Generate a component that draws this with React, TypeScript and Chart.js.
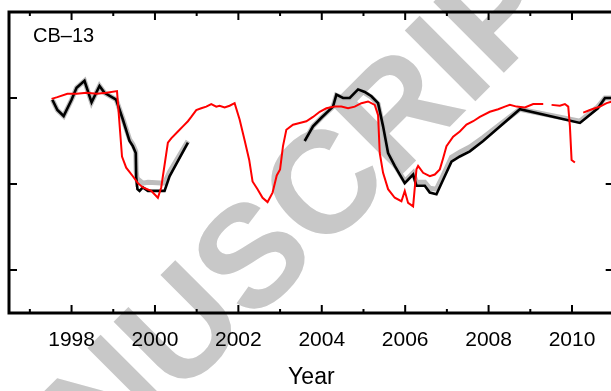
import { useEffect, useRef } from 'react';
import { Chart, registerables } from 'chart.js';
Chart.register(...registerables);

const panelLabel = 'CB\u201313';
const xAxisTitle = 'Year';
const watermarkText = 'MANUSCRIPT';
const xTickYears = [1998, 2000, 2002, 2004, 2006, 2008, 2010];
const xTickLabels = ['1998', '2000', '2002', '2004', '2006', '2008', '2010'];
const xMinorYears = [1997, 1999, 2001, 2003, 2005, 2007, 2009, 2011];
const yTickValues = [0, 1, 2];

const redYears = [
  1997.52, 1997.66, 1997.9, 1998.12, 1998.36, 1998.6, 1998.84, 1999.09, 1999.21, 1999.31,
  1999.47, 1999.59, 1999.71, 1999.91, 2000.07, 2000.15, 2000.19, 2000.31, 2000.39, 2000.55,
  2000.67, 2000.79, 2000.87, 2000.99, 2001.11, 2001.23, 2001.35, 2001.47, 2001.55, 2001.67,
  2001.79, 2001.91, 2002.03, 2002.15, 2002.26, 2002.34, 2002.46, 2002.58, 2002.7, 2002.82,
  2002.92, 2003.0, 2003.07, 2003.15, 2003.31, 2003.47, 2003.63, 2003.79, 2003.95, 2004.11,
  2004.31, 2004.47, 2004.63, 2004.79, 2004.95, 2005.11, 2005.27, 2005.35, 2005.39, 2005.47,
  2005.59, 2005.75, 2005.91, 2005.99, 2006.07, 2006.19, 2006.27, 2006.31, 2006.43, 2006.59,
  2006.71, 2006.83, 2006.91, 2006.99, 2007.15, 2007.31, 2007.47, 2007.63, 2007.79, 2008.03,
  2008.23, 2008.39, 2008.51, 2008.67, 2008.87, 2009.07, 2009.31, 2009.41, 2009.51, 2009.71,
  2009.83, 2009.91, 2009.95, 2009.99, 2010.07, 2010.17, 2010.27, 2010.43, 2010.55, 2010.67,
  2010.83, 2010.96,
];
const redValues = [
  1.99, 2.01, 2.05, 2.05, 2.06, 2.05, 2.06, 2.08, 1.32, 1.19,
  1.09, 1.01, 0.96, 0.92, 0.84, 0.96, 1.09, 1.48, 1.53, 1.61,
  1.67, 1.73, 1.78, 1.86, 1.88, 1.9, 1.93, 1.9, 1.91, 1.89,
  1.91, 1.94, 1.75, 1.51, 1.28, 1.03, 0.94, 0.84, 0.79, 0.9,
  1.1, 1.17, 1.44, 1.63, 1.69, 1.71, 1.73, 1.78, 1.84, 1.88,
  1.9, 1.9, 1.88, 1.9, 1.94, 1.96, 1.92, 1.8, 1.36, 1.13,
  0.94, 0.84, 0.8, 0.92, 0.78, 0.74, 1.17, 1.21, 1.13, 1.09,
  1.11, 1.17, 1.3, 1.44, 1.55, 1.61, 1.69, 1.73, 1.78, 1.84,
  1.87, 1.9, 1.92, 1.9, 1.89, 1.93, 1.93, null, 1.92, 1.91,
  1.93, 1.9, 1.67, 1.28, 1.25, null, 1.83, 1.86, 1.88, 1.9,
  1.94, 1.96,
];

const modelYears = [
  1997.54, 1997.66, 1997.81, 1998.0, 1998.12, 1998.31, 1998.48, 1998.67, 1998.79, 1999.07,
  1999.23, 1999.39, 1999.47, 1999.54, 1999.55, 1999.58, 1999.63, 1999.71, 1999.83, 2000.23,
  2000.35, 2000.79, 2002.0, 2003.59, 2003.79, 2003.99, 2004.27, 2004.35, 2004.51, 2004.67,
  2004.87, 2005.03, 2005.19, 2005.35, 2005.47, 2005.59, 2005.75, 2005.99, 2006.19, 2006.27,
  2006.47, 2006.59, 2006.75, 2006.91, 2007.11, 2007.31, 2007.55, 2007.87, 2008.75, 2010.19,
  2010.62, 2010.79, 2010.96,
];
const blackValues = [
  1.98, 1.86, 1.79, 1.98, 2.12, 2.2, 1.95, 2.14, 2.06, 1.98,
  1.75, 1.5, 1.44, 1.36, 1.08, 0.94, 0.92, 0.96, 0.92, 0.92,
  1.09, 1.48, null, 1.5, 1.67, 1.77, 1.9, 2.04, 2.0, 2.0,
  2.1, 2.07, 2.02, 1.94, 1.67, 1.36, 1.21, 1.01, 1.11, 0.98,
  0.98, 0.9, 0.88, 1.05, 1.26, 1.32, 1.38, 1.5, 1.87, 1.71,
  1.88, 2.0, 2.0,
];
const greyValues = [
  1.98, 1.86, 1.79, 1.98, 2.12, 2.2, 1.95, 2.14, 2.06, 1.98,
  1.76, 1.52, 1.46, 1.38, 1.15, 1.02, 1.04, 1.01, 1.02, 1.01,
  1.14, 1.5, null, 1.5, 1.67, 1.77, 1.9, 2.03, 2.0, 2.0,
  2.09, 2.06, 2.01, 1.93, 1.66, 1.36, 1.22, 1.03, 1.13, 1.02,
  1.02, 0.95, 0.94, 1.1, 1.31, 1.37, 1.43, 1.54, 1.87, 1.73,
  1.9, 2.0, 2.0,
];

const FONT = '"Liberation Sans", Arial, Helvetica, sans-serif';

const watermarkPlugin = {
  id: 'watermark',
  beforeDraw(chart: any) {
    const ctx = chart.ctx;
    ctx.save();
    ctx.fillStyle = '#c8c8c8';
    ctx.font = `bold 145px ${FONT}`;
    ctx.translate(258, 262);
    ctx.rotate((-45 * Math.PI) / 180);
    ctx.textAlign = 'center';
    ctx.textBaseline = 'middle';
    ctx.fillText(watermarkText, 0, 0);
    ctx.restore();
  },
};

const framePlugin = {
  id: 'frame',
  afterDraw(chart: any) {
    const { ctx, chartArea: a, scales } = chart;
    const x = scales.x;
    const y = scales.y;
    ctx.save();
    ctx.strokeStyle = '#000';
    ctx.lineWidth = 2;
    ctx.beginPath();
    xTickYears.forEach((yr) => {
      const px = x.getPixelForValue(yr);
      ctx.moveTo(px, a.bottom);
      ctx.lineTo(px, a.bottom - 8);
      ctx.moveTo(px, a.top);
      ctx.lineTo(px, a.top + 8);
    });
    xMinorYears.forEach((yr) => {
      const px = x.getPixelForValue(yr);
      ctx.moveTo(px, a.bottom);
      ctx.lineTo(px, a.bottom - 4);
      ctx.moveTo(px, a.top);
      ctx.lineTo(px, a.top + 4);
    });
    yTickValues.forEach((v) => {
      const py = y.getPixelForValue(v);
      ctx.moveTo(a.left, py);
      ctx.lineTo(a.left + 8, py);
      ctx.moveTo(a.right, py);
      ctx.lineTo(a.right - 8, py);
    });
    ctx.stroke();
    ctx.lineWidth = 3;
    ctx.strokeRect(a.left, a.top, a.right - a.left, a.bottom - a.top);
    ctx.fillStyle = '#000';
    ctx.font = `20px ${FONT}`;
    ctx.textAlign = 'left';
    ctx.textBaseline = 'alphabetic';
    ctx.fillText(panelLabel, a.left + 24, a.top + 30);
    ctx.restore();
  },
};

export default function App() {
  const ref = useRef<HTMLCanvasElement>(null);
  useEffect(() => {
    document.body.style.margin = '0';
    document.body.style.overflow = 'hidden';
    const canvas = ref.current!;
    const allTicks = [...xTickYears, ...xMinorYears].sort((p, q) => p - q);
    const chart = new Chart(canvas, {
      type: 'line',
      data: {
        datasets: [
          {
            label: 'Observed',
            data: redYears.map((xv, i) => ({ x: xv, y: redValues[i] })),
            borderColor: '#ff0000',
            borderWidth: 2,
            pointRadius: 0,
            tension: 0,
            spanGaps: false,
          },
          {
            label: 'Model',
            data: modelYears.map((xv, i) => ({ x: xv, y: blackValues[i] })),
            borderColor: '#000000',
            borderWidth: 2.6,
            pointRadius: 0,
            tension: 0,
            spanGaps: false,
          },
          {
            label: 'Model variant',
            data: modelYears.map((xv, i) => ({ x: xv, y: greyValues[i] })),
            borderColor: '#bdbdbd',
            borderWidth: 5,
            pointRadius: 0,
            tension: 0,
            spanGaps: false,
          },
        ] as any,
      },
      options: {
        responsive: false,
        animation: false,
        events: [],
        layout: { padding: { left: 9, top: 12, right: 640 - 613.7, bottom: 0 } },
        plugins: { legend: { display: false }, tooltip: { enabled: false } },
        scales: {
          x: {
            type: 'linear',
            min: 1996.5,
            max: 2011,
            afterBuildTicks: (s: any) => {
              s.ticks = allTicks.map((v) => ({ value: v }));
            },
            afterFit: (s: any) => {
              s.height = 78;
            },
            grid: { display: false, drawTicks: false },
            border: { display: false },
            ticks: {
              autoSkip: false,
              maxRotation: 0,
              padding: 15,
              color: '#000',
              font: { family: FONT, size: 21 },
              callback: (v: any) => {
                const i = xTickYears.indexOf(Number(v));
                return i >= 0 ? xTickLabels[i] : '';
              },
            },
            title: {
              display: true,
              text: xAxisTitle,
              color: '#000',
              font: { family: FONT, size: 23 },
              padding: { top: 0, bottom: 0 },
            },
          },
          y: { type: 'linear', min: -0.5, max: 3.0, display: false },
        },
      } as any,
      plugins: [watermarkPlugin, framePlugin],
    });
    return () => chart.destroy();
  }, []);
  return (
    <div style={{ width: 611, height: 391, overflow: 'hidden', position: 'relative' }}>
      <canvas ref={ref} width={640} height={391} style={{ display: 'block', width: 640, height: 391 }} />
    </div>
  );
}
